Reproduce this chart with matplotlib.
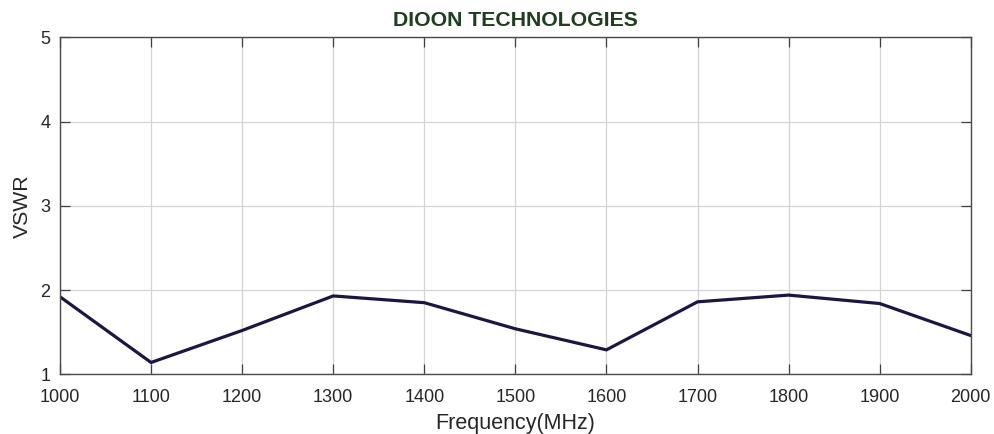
import matplotlib.pyplot as plt

# Data
freq = [1000, 1100, 1200, 1300, 1400, 1500, 1600, 1700, 1800, 1900, 2000]
vswr = [1.92, 1.14, 1.52, 1.93, 1.85, 1.54, 1.29, 1.86, 1.94, 1.84, 1.46]
x_ticks = [1000, 1100, 1200, 1300, 1400, 1500, 1600, 1700, 1800, 1900, 2000]
y_ticks = [1, 2, 3, 4, 5]

plt.rcParams['font.family'] = ['Liberation Sans', 'DejaVu Sans']

fig = plt.figure(figsize=(9.95, 4.34), dpi=100)
ax = fig.add_axes([0.0603, 0.1376, 0.9153, 0.7764])

ax.plot(freq, vswr, color='#1b1642', linewidth=2.3, solid_joinstyle='miter')

ax.set_xlim(1000, 2000)
ax.set_ylim(1, 5)
ax.set_xticks(x_ticks)
ax.set_yticks(y_ticks)
ax.tick_params(direction='in', length=7, width=0.9, color='#404040',
               labelcolor='#262626', labelsize=13, top=True, right=True)
ax.tick_params(axis='x', pad=10.5)
ax.tick_params(axis='y', pad=7)

ax.grid(True, color='#d4d4d4', linewidth=0.9)
ax.set_axisbelow(True)
for s in ax.spines.values():
    s.set_color('#4a4a4a')
    s.set_linewidth(1.0)

ax.set_xlabel('Frequency(MHz)', fontsize=15.5, color='#262626', labelpad=5)
ax.set_ylabel('VSWR', fontsize=15.3, color='#262626', labelpad=6)
ax.set_title('DIOON TECHNOLOGIES', fontsize=15.3, fontweight='bold',
             color='#1f3d1f', pad=8)

fig.savefig('out.png', dpi=100)
